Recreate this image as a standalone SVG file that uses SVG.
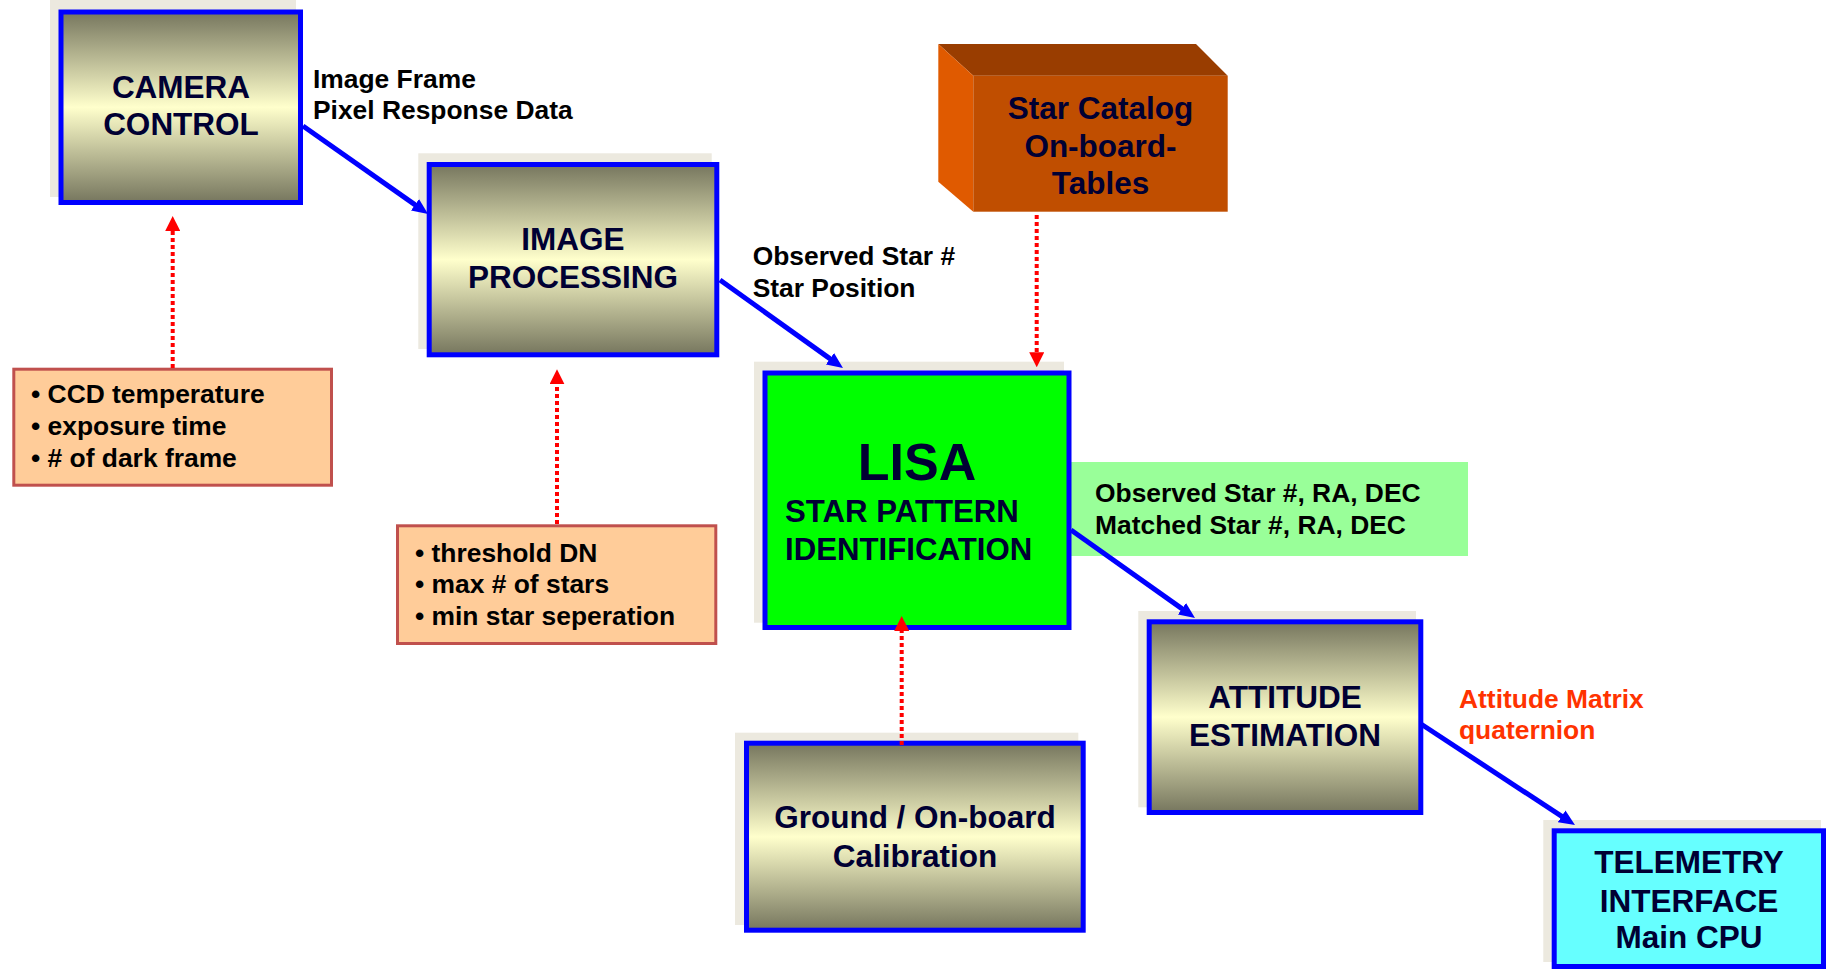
<svg xmlns="http://www.w3.org/2000/svg" width="1827" height="970" viewBox="0 0 1827 970">
<style>
.shadow{fill:#ECE9DF;stroke:none}
.box{stroke:#0000FF;stroke-width:5}
.grad{fill:url(#olive)}
.ntext{font-family:"Liberation Sans",Arial,sans-serif;font-weight:bold;font-size:31.5px;fill:#000033;text-anchor:middle}
.ltext{font-family:"Liberation Sans",Arial,sans-serif;font-weight:bold;font-size:26.4px;fill:#000000}
.rtext{font-family:"Liberation Sans",Arial,sans-serif;font-weight:bold;font-size:26.4px;fill:#FF3300}
.note{fill:#FFCC99;stroke:#C0504D;stroke-width:3}
.flow{stroke:#0000FF;stroke-width:5;fill:none;marker-end:url(#blueArrow)}
.param{stroke:#FF0000;stroke-width:4;fill:none;stroke-dasharray:4 3;marker-end:url(#redArrow)}
</style>
<defs>
<linearGradient id="olive" x1="0" y1="0" x2="0" y2="1">
<stop offset="0" stop-color="#76765E"/>
<stop offset="0.5" stop-color="#FFFFCC"/>
<stop offset="1" stop-color="#76765E"/>
</linearGradient>
<marker id="blueArrow" viewBox="0 0 16 14" refX="2" refY="7" markerWidth="16" markerHeight="14" markerUnits="userSpaceOnUse" orient="auto">
<path d="M0,0 L16,7 L0,14 z" fill="#0000FF"/>
</marker>
<marker id="redArrow" viewBox="0 0 15 15" refX="0" refY="7.5" markerWidth="15" markerHeight="15" markerUnits="userSpaceOnUse" orient="auto">
<path d="M0,0 L15,7.5 L0,15 z" fill="#FF0000"/>
</marker>
</defs>
<rect width="1827" height="970" fill="#FFFFFF"/>

<g id="edge-labels">
<rect x="1066" y="462" width="402" height="94" fill="#99FF99"/>
<text class="ltext" x="1095" y="501.7">Observed Star #, RA, DEC</text>
<text class="ltext" x="1095" y="534">Matched Star #, RA, DEC</text>
<text class="ltext" x="313" y="88.3">Image Frame</text>
<text class="ltext" x="313" y="119.3">Pixel Response Data</text>
<text class="ltext" x="752.7" y="265">Observed Star #</text>
<text class="ltext" x="752.7" y="296.7">Star Position</text>
<text class="rtext" x="1459" y="708.3">Attitude Matrix</text>
<text class="rtext" x="1459" y="739.3">quaternion</text>
</g>

<g id="camera-control">
<rect class="shadow" x="50" y="0" width="246" height="197"/>
<rect class="box grad" x="61" y="12" width="239.5" height="190.5"/>
<text class="ntext" x="181" y="97.7">CAMERA</text>
<text class="ntext" x="181" y="135">CONTROL</text>
</g>

<g id="image-processing">
<rect class="shadow" x="418.3" y="153.3" width="293.4" height="195.7"/>
<rect class="box grad" x="429.2" y="164.5" width="287.6" height="190.3"/>
<text class="ntext" x="573" y="250">IMAGE</text>
<text class="ntext" x="573" y="288.3">PROCESSING</text>
</g>

<g id="star-catalog">
<polygon points="938.3,44 1196,44 1227.7,75.7 973.3,75.7" fill="#993D00"/>
<polygon points="938.3,44 973.3,75.7 973.3,211.7 938.3,181.7" fill="#E05A00"/>
<rect x="973.3" y="75.7" width="254.4" height="136" fill="#C04E00"/>
<text class="ntext" x="1100.5" y="119.3">Star Catalog</text>
<text class="ntext" x="1100.5" y="156.7">On-board-</text>
<text class="ntext" x="1100.5" y="194">Tables</text>
</g>

<g id="ccd-params">
<rect class="note" x="13.8" y="369.2" width="317.7" height="116"/>
<text class="ltext" x="31" y="403.3">• CCD temperature</text>
<text class="ltext" x="31" y="435.3">• exposure time</text>
<text class="ltext" x="31" y="466.7">• # of dark frame</text>
</g>

<g id="threshold-params">
<rect class="note" x="397.5" y="525.8" width="318.3" height="117.7"/>
<text class="ltext" x="415" y="561.7">• threshold DN</text>
<text class="ltext" x="415" y="593.3">• max # of stars</text>
<text class="ltext" x="415" y="625">• min star seperation</text>
</g>

<g id="lisa">
<rect class="shadow" x="754" y="361.7" width="310" height="261"/>
<rect class="box" x="765" y="373" width="304" height="254.5" fill="#00FF00"/>
<text class="ntext" x="917" y="480" style="font-size:52px">LISA</text>
<text class="ntext" x="785" y="522.3" style="font-size:31.2px;text-anchor:start">STAR PATTERN</text>
<text class="ntext" x="785" y="560" style="font-size:31.2px;text-anchor:start">IDENTIFICATION</text>
</g>

<g id="attitude-estimation">
<rect class="shadow" x="1138.3" y="611" width="277.7" height="196.3"/>
<rect class="box grad" x="1149.2" y="621.8" width="271.6" height="190.7"/>
<text class="ntext" x="1285" y="708.3">ATTITUDE</text>
<text class="ntext" x="1285" y="746">ESTIMATION</text>
</g>

<g id="ground-calibration">
<rect class="shadow" x="735" y="732.7" width="343.3" height="192.3"/>
<rect class="box grad" x="746.5" y="743.2" width="336.7" height="187"/>
<text class="ntext" x="915" y="828.3">Ground / On-board</text>
<text class="ntext" x="915" y="866.7">Calibration</text>
</g>

<g id="telemetry-interface">
<rect class="shadow" x="1543.3" y="820" width="277.7" height="142"/>
<rect class="box" x="1554.2" y="830.8" width="269.3" height="135.7" fill="#66FFFF"/>
<text class="ntext" x="1689" y="872.7">TELEMETRY</text>
<text class="ntext" x="1689" y="911.7">INTERFACE</text>
<text class="ntext" x="1689" y="948.3">Main CPU</text>
</g>

<g id="connectors">
<path class="flow" d="M303,126 L416.6,205.9"/>
<path class="flow" d="M720,280 L831.6,359.9"/>
<path class="flow" d="M1071,530 L1183.6,609.9"/>
<path class="flow" d="M1421,724 L1563.3,817.4"/>
<path class="param" d="M172.7,368 L172.7,231"/>
<path class="param" d="M557,524 L557,384.3"/>
<path class="param" d="M1036.7,215 L1036.7,352.3"/>
<path class="param" d="M901.7,745 L901.7,631"/>
</g>
</svg>
